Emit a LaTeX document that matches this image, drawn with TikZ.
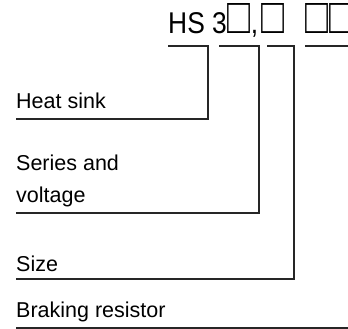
\documentclass[tikz,border=0pt]{standalone}
\usepackage{fontspec}
\setmainfont{Liberation Sans}
\newfontfamily\codefont{Liberation Sans}[FakeStretch=0.88]
\usepackage{graphicx}
\usetikzlibrary{positioning}

\newcommand{\typebox}{\makebox[24pt][c]{\resizebox*{23pt}{30pt}{□}}}

\begin{document}
\begin{tikzpicture}[x=1pt,y=-1pt,
    lbl/.style={anchor=base west, inner sep=0pt, align=left,
                font=\fontsize{21.5}{32}\selectfont},
    code/.style={anchor=base west, inner sep=0pt,
                 font=\codefont\fontsize{30}{32}\selectfont},
    lead/.style={draw=black!85, line width=1.2pt}
  ]
  \useasboundingbox (0,0) rectangle (348,329);
  \node[code] (code) at (168,34)
    {HS 3\typebox,\kern3pt\typebox\ \kern12pt\typebox\typebox};
  % labels
  \node[lbl] (heat)   at (16,108) {Heat sink};
  \node[lbl] (series) at (16,202) {Series and\\voltage};
  \node[lbl] (size)   at (16,271) {Size};
  \node[lbl] (brake)  at (16,317) {Braking resistor};
  % leader ends
  \coordinate (heat-l)   at (16,119);
  \coordinate (series-l) at (16,213);
  \coordinate (size-l)   at (16,279);
  \coordinate (brake-l)  at (16,328);
  \coordinate (heat-t)   at (168,46);
  \coordinate (series-t) at (219,46);
  \coordinate (size-t)   at (267,46);
  \coordinate (brake-t)  at (305,46);
  \coordinate (heat-k)   at (208,119);
  \coordinate (series-k) at (259,213);
  \coordinate (size-k)   at (294,279);
  \coordinate (brake-r)  at (348,328);
  \coordinate (brake-e)  at (348,46);
  \draw[lead] (heat-t) -| (heat-k) -- (heat-l);
  \draw[lead] (series-t) -| (series-k) -- (series-l);
  \draw[lead] (size-t) -| (size-k) -- (size-l);
  \draw[lead] (brake-t) -- (brake-e);
  \draw[lead] (brake-l) -- (brake-r);
\end{tikzpicture}
\end{document}
